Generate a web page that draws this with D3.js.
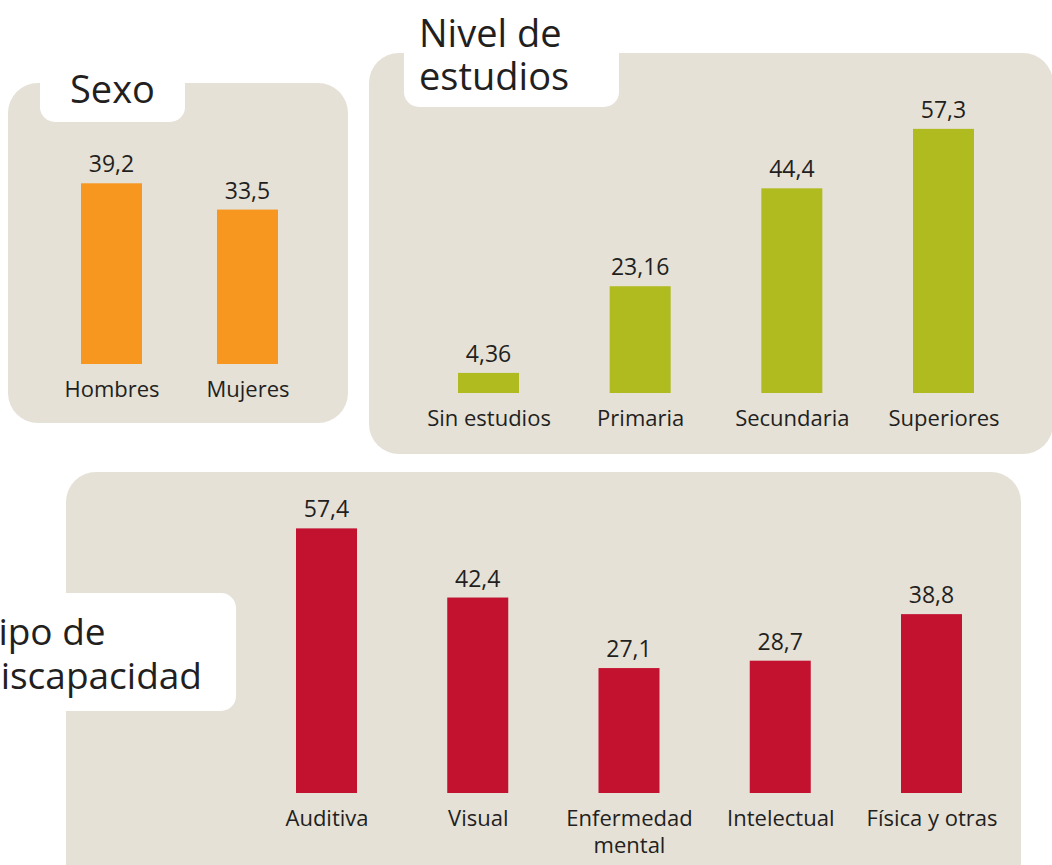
<!DOCTYPE html>
<html><head><meta charset="utf-8">
<script src="https://cdn.jsdelivr.net/npm/d3@7"></script>
<style>
html,body{margin:0;padding:0;background:#fff;}
svg{display:block;}
text{font-family:"Open Sans",sans-serif;fill:#231F20;}
</style></head>
<body>
<svg id="chart" width="1052" height="865"></svg>
<script>
// ---- Data ----
const sexoCats = ["Hombres", "Mujeres"];
const sexoVals = [39.2, 33.5];
const estudiosCats = ["Sin estudios", "Primaria", "Secundaria", "Superiores"];
const estudiosVals = [4.36, 23.16, 44.4, 57.3];
const tipoCats = ["Auditiva", "Visual", "Enfermedad mental", "Intelectual", "Física y otras"];
const tipoVals = [57.4, 42.4, 27.1, 28.7, 38.8];
const titles = {sexo: ["Sexo"], estudios: ["Nivel de", "estudios"], tipo: ["Tipo de", "discapacidad"]};

// ---- Layout ----
const svg = d3.select("#chart");
const PANEL = "#E5E1D7";
const K = 4.61; // px per unit
const yMax = 60;
const barW = 61;

function panel(x, y, w, h) {
  svg.append("rect").attr("x", x).attr("y", y).attr("width", w).attr("height", h)
    .attr("rx", 30).attr("ry", 30).attr("fill", PANEL);
}
function titleBox(x, y, w, h, lines, tx, ty, lh, fs) {
  svg.append("rect").attr("x", x).attr("y", y).attr("width", w).attr("height", h)
    .attr("rx", 15).attr("ry", 15).attr("fill", "#fff");
  const t = svg.append("text").attr("x", tx).attr("y", ty).style("font-size", fs + "px");
  lines.forEach((l, i) => t.append("tspan").attr("x", tx).attr("dy", i === 0 ? 0 : lh).text(l));
}
function wrap(sel, maxW) {
  sel.each(function () {
    const text = d3.select(this);
    const words = text.text().split(" ");
    const dy0 = text.attr("dy");
    text.text(null);
    let line = [];
    let tsp = text.append("tspan").attr("x", 0).attr("dy", dy0);
    words.forEach(w => {
      line.push(w);
      tsp.text(line.join(" "));
      if (tsp.node().getComputedTextLength() > maxW && line.length > 1) {
        line.pop();
        tsp.text(line.join(" "));
        line = [w];
        tsp = text.append("tspan").attr("x", 0).attr("dy", "1.23em").text(w);
      }
    });
  });
}
function bars(cats, vals, color, xRange, bottom) {
  const x = d3.scalePoint().domain(cats).range(xRange).padding(0);
  const y = d3.scaleLinear().domain([0, yMax]).range([bottom, bottom - yMax * K]);
  const g = svg.append("g");
  const data = cats.map((c, i) => ({c, v: vals[i]}));
  g.selectAll("rect.bar").data(data).join("rect").attr("class", "bar")
    .attr("x", d => x(d.c) - barW / 2).attr("width", barW)
    .attr("y", d => y(d.v)).attr("height", d => y(0) - y(d.v))
    .attr("fill", color);
  g.selectAll("text.val").data(data).join("text").attr("class", "val")
    .attr("x", d => x(d.c)).attr("y", d => y(d.v) - 11)
    .attr("text-anchor", "middle").style("font-size", "23px")
    .text(d => String(d.v).replace(".", ","));
  const ax = g.append("g").attr("transform", `translate(0,${bottom})`)
    .call(d3.axisBottom(x).tickSize(0).tickPadding(17));
  ax.select(".domain").remove();
  ax.selectAll("text").style("font-size", "22px").attr("fill", "#231F20")
    .style("font-family", "'Open Sans',sans-serif").call(wrap, 150);
}

// Panels
panel(8, 83, 340, 340);
panel(369, 53, 684, 401);
panel(66, 472, 955, 430);

// Titles
titleBox(40, 30, 145, 92, titles.sexo, 70, 103, 0, 38);
titleBox(404, -20, 215, 127, titles.estudios, 419, 47, 43, 38);
titleBox(-30, 593, 266, 118, titles.tipo, -22, 645, 44, 37);

// Bars
bars(sexoCats, sexoVals, "#F7971F", [111.5, 247.5], 364);
bars(estudiosCats, estudiosVals, "#AFBB1E", [488.5, 943.5], 393);
bars(tipoCats, tipoVals, "#C31130", [326.5, 931.5], 793);
</script>
</body></html>
